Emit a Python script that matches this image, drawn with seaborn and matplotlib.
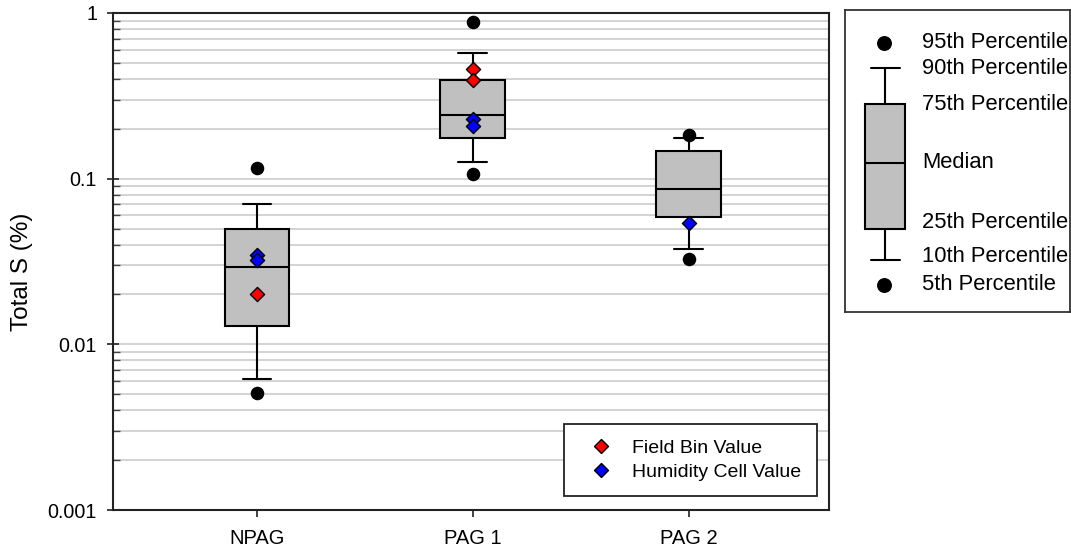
import matplotlib
matplotlib.use("Agg")
import matplotlib.pyplot as plt
import seaborn as sns
import pandas as pd
from matplotlib.lines import Line2D
from matplotlib.ticker import LogLocator, FixedLocator, FixedFormatter, NullFormatter

# ---------------- data ----------------
groups = ["NPAG", "PAG 1", "PAG 2"]
p5 = [0.00506, 0.1067, 0.0326]
p10 = [0.00615, 0.126, 0.0376]
p25 = [0.0129, 0.176, 0.0585]
p50 = [0.0292, 0.242, 0.0863]
p75 = [0.0497, 0.394, 0.147]
p90 = [0.0703, 0.576, 0.175]
p95 = [0.1155, 0.878, 0.184]

field_group = ["NPAG", "PAG 1", "PAG 1"]
field_vals = [0.0201, 0.459, 0.394]
humid_group = ["NPAG", "NPAG", "PAG 1", "PAG 1", "PAG 2"]
humid_vals = [0.0346, 0.0323, 0.229, 0.208, 0.0542]

yticks = [0.001, 0.01, 0.1, 1]
ytick_labels = ["0.001", "0.01", "0.1", "1"]

legend_labels = ["95th Percentile", "90th Percentile", "75th Percentile", "Median",
                 "25th Percentile", "10th Percentile", "5th Percentile"]

# ---------------- style ----------------
sns.set_theme(style="white")
plt.rcParams["font.family"] = ["Liberation Sans", "DejaVu Sans"]
plt.rcParams["text.color"] = "black"
plt.rcParams["axes.labelcolor"] = "black"
plt.rcParams["xtick.color"] = "black"
plt.rcParams["ytick.color"] = "black"
plt.rcParams["xtick.labelcolor"] = "black"
plt.rcParams["ytick.labelcolor"] = "black"

W, H = 1071, 550
fig = plt.figure(figsize=(W / 100, H / 100), dpi=100)
ax = fig.add_axes([113 / W, (H - 510) / H, (829 - 113) / W, (510 - 13) / H])

pos = list(range(len(groups)))
stats = []
for i, g in enumerate(groups):
    stats.append(dict(label=g, whislo=p10[i], q1=p25[i], med=p50[i],
                      q3=p75[i], whishi=p90[i], fliers=[]))

ax.set_yscale("log")
ax.set_ylim(0.001, 1)
ax.set_xlim(-0.6674, 2.651)

# grid lines (major + minor)
ax.yaxis.set_minor_locator(LogLocator(base=10, subs=range(2, 10)))
ax.grid(True, which="both", axis="y", color="#c8c8c8", lw=1.1, zorder=0)
ax.set_axisbelow(True)

lw = 1.5
ax.bxp(stats, positions=pos, widths=0.301, capwidths=0.134, patch_artist=True,
       showfliers=False,
       boxprops=dict(facecolor="#c0c0c0", edgecolor="black", lw=lw),
       whiskerprops=dict(color="black", lw=lw),
       capprops=dict(color="black", lw=lw),
       medianprops=dict(color="black", lw=lw),
       manage_ticks=False, zorder=3)

# 5th / 95th percentile dots
dots = pd.DataFrame({"group": groups * 2, "value": p5 + p95})
dots["x"] = dots["group"].map({g: i for i, g in enumerate(groups)})
sns.scatterplot(data=dots, x="x", y="value", ax=ax, color="black", s=95,
                marker="o", edgecolor="black", linewidth=0, zorder=4, legend=False)

# field bin / humidity cell values
fdf = pd.DataFrame({"x": [groups.index(g) for g in field_group], "value": field_vals})
hdf = pd.DataFrame({"x": [groups.index(g) for g in humid_group], "value": humid_vals})
sns.scatterplot(data=fdf, x="x", y="value", ax=ax, color="#ff0000", marker="D", s=52,
                edgecolor="black", linewidth=1.0, zorder=5, legend=False)
sns.scatterplot(data=hdf, x="x", y="value", ax=ax, color="#0000ff", marker="D", s=52,
                edgecolor="black", linewidth=1.0, zorder=5, legend=False)

# axes styling
ax.set_xticks(pos)
ax.set_xticklabels(groups, fontsize=14.5)
ax.yaxis.set_major_locator(FixedLocator(yticks))
ax.yaxis.set_major_formatter(FixedFormatter(ytick_labels))
ax.yaxis.set_minor_formatter(NullFormatter())
ax.tick_params(axis="y", which="major", direction="inout", length=9, width=1.2,
               labelsize=14.2, left=True, color="#222222", pad=7)
ax.tick_params(axis="y", which="minor", direction="in", length=5, width=1.0,
               left=True, color="#444444")
ax.tick_params(axis="x", which="major", direction="out", length=5, width=1.2,
               bottom=True, labelsize=14.5, color="#222222", pad=9)
ax.set_xlabel("")
ax.set_ylabel("Total S (%)", fontsize=17.5)
ax.yaxis.set_label_coords(-0.112, 0.48)
for sp in ax.spines.values():
    sp.set_color("#222222")
    sp.set_linewidth(1.5)

handles = [Line2D([], [], ls="none", marker="D", markersize=7.2, markerfacecolor="#ff0000",
                  markeredgecolor="black", markeredgewidth=1.0),
           Line2D([], [], ls="none", marker="D", markersize=7.2, markerfacecolor="#0000ff",
                  markeredgecolor="black", markeredgewidth=1.0)]
leg = ax.legend(handles, ["Field Bin Value", "Humidity Cell Value"], loc="lower right",
                bbox_to_anchor=(0.983, 0.028), borderaxespad=0, fontsize=14,
                frameon=True, fancybox=False, framealpha=1, edgecolor="#222222",
                borderpad=0.8, handlelength=2.2, handletextpad=0.5, labelspacing=0.3)
leg.get_frame().set_linewidth(1.3)

# ---------------- box-plot key (right) ----------------
lax = fig.add_axes([845 / W, (H - 312) / H, (1070 - 845) / W, (312 - 10) / H])
lax.set_xticks([])
lax.set_yticks([])
for sp in lax.spines.values():
    sp.set_color("#333333")
    sp.set_linewidth(1.3)
key = [dict(whislo=260, q1=229, med=163, q3=104, whishi=68, fliers=[])]
lax.bxp(key, positions=[885], widths=40, capwidths=29, patch_artist=True,
        showfliers=False,
        boxprops=dict(facecolor="#c0c0c0", edgecolor="black", lw=lw),
        whiskerprops=dict(color="black", lw=lw),
        capprops=dict(color="black", lw=lw),
        medianprops=dict(color="black", lw=lw),
        manage_ticks=False)
lax.set_xlim(845, 1070)
lax.set_ylim(312, 10)
lax.scatter([884, 884], [43, 285], s=95, color="black", zorder=4)
label_y = [43, 68, 104, 163, 222, 256, 284]
for t, yy in zip(legend_labels, label_y):
    lax.text(922, yy, t, fontsize=15.8, va="center", ha="left", color="black")

fig.savefig("out.png", dpi=100)
